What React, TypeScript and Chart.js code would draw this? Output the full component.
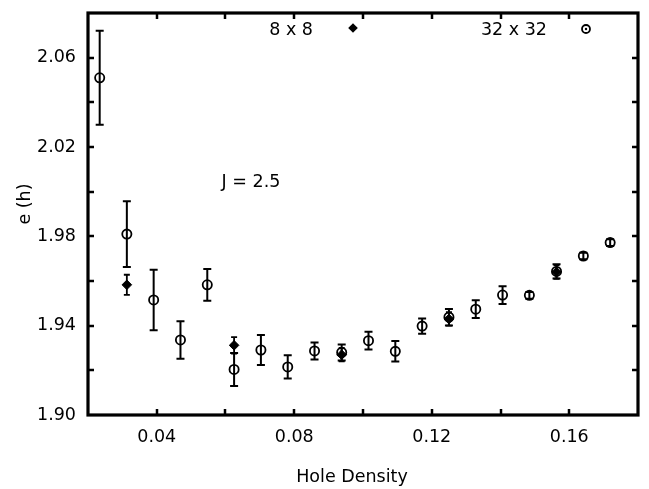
import React, { useEffect, useRef } from "react";
import { Chart, registerables } from "chart.js";

Chart.register(...registerables);

// ---- data ----
const holeDensity32 = [0.0234, 0.0313, 0.0391, 0.0469, 0.0547, 0.0625, 0.0703, 0.0781, 0.0859, 0.0938, 0.1016, 0.1094, 0.1172, 0.125, 0.1328, 0.1406, 0.1484, 0.1563, 0.1641, 0.1719];
const energy32 = [2.051, 1.981, 1.9515, 1.9336, 1.9583, 1.9204, 1.9291, 1.9215, 1.9287, 1.928, 1.9333, 1.9285, 1.9398, 1.9438, 1.9474, 1.9537, 1.9536, 1.9643, 1.9712, 1.9772];
const error32 = [0.021, 0.0147, 0.0135, 0.0084, 0.0071, 0.0074, 0.0067, 0.0052, 0.0038, 0.0036, 0.004, 0.0046, 0.0034, 0.0037, 0.004, 0.004, 0.0015, 0.0032, 0.0015, 0.0015];

const holeDensity8 = [0.0313, 0.0625, 0.0938, 0.125, 0.1563];
const energy8 = [1.9583, 1.9312, 1.927, 1.943, 1.964];
const error8 = [0.0045, 0.0037, 0.003, 0.003, 0.003];

const seriesLabels = ["8 x 8", "32 x 32"];
const xTickLabels = ["0.04", "0.08", "0.12", "0.16"];
const yTickLabels = ["1.90", "1.94", "1.98", "2.02", "2.06"];
const xTitle = "Hole Density";
const yTitle = "e (h)";
const annotation = "J = 2.5";

const FONT = '17.5px "DejaVu Sans"';

const decorPlugin = {
  id: "decor",
  beforeDatasetsDraw(chart: any) {
    const ctx = chart.ctx;
    const xs = chart.scales.x;
    const ys = chart.scales.y;
    ctx.save();
    ctx.strokeStyle = "#000";
    chart.data.datasets.forEach((ds: any) => {
      const errs: number[] = ds.errors || [];
      const cap = ds.capHalf || 4;
      ctx.lineWidth = ds.errWidth || 1.8;
      ds.data.forEach((p: any, i: number) => {
        const e = errs[i];
        if (!e) return;
        const px = xs.getPixelForValue(p.x);
        const y1 = ys.getPixelForValue(p.y + e);
        const y2 = ys.getPixelForValue(p.y - e);
        ctx.beginPath();
        ctx.moveTo(px, y1);
        ctx.lineTo(px, y2);
        ctx.moveTo(px - cap, y1);
        ctx.lineTo(px + cap, y1);
        ctx.moveTo(px - cap, y2);
        ctx.lineTo(px + cap, y2);
        ctx.stroke();
      });
    });
    ctx.restore();
  },
  afterDraw(chart: any) {
    const ctx = chart.ctx;
    const { left, right, top, bottom } = chart.chartArea;
    const xs = chart.scales.x;
    const ys = chart.scales.y;
    ctx.save();
    ctx.strokeStyle = "#000";
    // inward ticks
    ctx.lineWidth = 2.5;
    const tl = 6;
    xs.ticks.forEach((t: any) => {
      if (t.value <= xs.min + 1e-9 || t.value >= xs.max - 1e-9) return;
      const px = Math.round(xs.getPixelForValue(t.value));
      ctx.beginPath();
      ctx.moveTo(px, bottom);
      ctx.lineTo(px, bottom - tl);
      ctx.moveTo(px, top);
      ctx.lineTo(px, top + tl);
      ctx.stroke();
    });
    ys.ticks.forEach((t: any) => {
      if (t.value <= ys.min + 1e-9 || t.value >= ys.max - 1e-9) return;
      const py = Math.round(ys.getPixelForValue(t.value));
      ctx.beginPath();
      ctx.moveTo(left, py);
      ctx.lineTo(left + tl, py);
      ctx.moveTo(right, py);
      ctx.lineTo(right - tl, py);
      ctx.stroke();
    });
    // frame
    ctx.lineWidth = 3.2;
    ctx.strokeRect(left, top, right - left, bottom - top);

    // texts
    ctx.fillStyle = "#000";
    ctx.font = FONT;
    ctx.textAlign = "center";
    ctx.textBaseline = "alphabetic";
    ctx.fillText(xTitle, 352, 482);
    ctx.fillText(annotation, 251, 187);
    ctx.save();
    ctx.translate(25, 204);
    ctx.rotate(-Math.PI / 2);
    ctx.textBaseline = "middle";
    ctx.fillText(yTitle, 0, 0);
    ctx.restore();

    // legend
    ctx.textAlign = "right";
    ctx.textBaseline = "alphabetic";
    ctx.fillText(seriesLabels[0], 313, 35);
    ctx.fillText(seriesLabels[1], 547, 35);
    // diamond
    const dx = 353, dy = 28, r = 4.8;
    ctx.beginPath();
    ctx.moveTo(dx - r, dy);
    ctx.lineTo(dx, dy - r);
    ctx.lineTo(dx + r, dy);
    ctx.lineTo(dx, dy + r);
    ctx.closePath();
    ctx.fill();
    // circle with dot
    ctx.lineWidth = 1.8;
    ctx.beginPath();
    ctx.arc(586, 29, 4, 0, Math.PI * 2);
    ctx.stroke();
    ctx.beginPath();
    ctx.arc(586, 29, 1.2, 0, Math.PI * 2);
    ctx.fill();
    ctx.restore();
  },
};

export default function App() {
  const ref = useRef<HTMLCanvasElement | null>(null);
  useEffect(() => {
    if (!ref.current) return;
    const chart = new Chart(ref.current, {
      type: "scatter",
      data: {
        datasets: [
          {
            label: seriesLabels[1],
            data: holeDensity32.map((x, i) => ({ x, y: energy32[i] })),
            errors: error32,
            capHalf: 4,
            errWidth: 2,
            pointStyle: "circle",
            pointRadius: 4.6,
            pointBorderWidth: 1.8,
            borderColor: "#000",
            backgroundColor: "rgba(0,0,0,0)",
            showLine: false,
          } as any,
          {
            label: seriesLabels[0],
            data: holeDensity8.map((x, i) => ({ x, y: energy8[i] })),
            errors: error8,
            capHalf: 3,
            errWidth: 1.8,
            pointStyle: "rectRot",
            pointRadius: 4.8,
            pointBorderWidth: 1,
            borderColor: "#000",
            backgroundColor: "#000",
            showLine: false,
          } as any,
        ],
      },
      options: {
        animation: false,
        responsive: false,
        events: [],
        layout: { padding: { top: 13, right: 11, left: 0, bottom: 0 } },
        plugins: { legend: { display: false }, tooltip: { enabled: false } },
        scales: {
          x: {
            type: "linear",
            min: 0.02,
            max: 0.18,
            grid: { display: false, drawTicks: false },
            border: { display: false },
            ticks: {
              stepSize: 0.02,
              autoSkip: false,
              maxRotation: 0,
              padding: 12,
              color: "#000",
              font: { family: "DejaVu Sans", size: 17.5 },
              callback: (v: any) => {
                const s = Number(v).toFixed(2);
                return xTickLabels.includes(s) ? s : "";
              },
            },
            afterFit: (s: any) => {
              s.height = 74;
              s.paddingLeft = 0;
              s.paddingRight = 0;
              s.paddingTop = 0;
              s.paddingBottom = 0;
            },
          },
          y: {
            type: "linear",
            min: 1.9,
            max: 2.08,
            grid: { display: false, drawTicks: false },
            border: { display: false },
            ticks: {
              stepSize: 0.02,
              autoSkip: false,
              padding: 12,
              color: "#000",
              font: { family: "DejaVu Sans", size: 17.5 },
              callback: (v: any) => {
                const s = Number(v).toFixed(2);
                return yTickLabels.includes(s) ? s : "";
              },
            },
            afterFit: (s: any) => {
              s.width = 88;
              s.paddingLeft = 0;
              s.paddingRight = 0;
              s.paddingTop = 0;
              s.paddingBottom = 0;
            },
          },
        },
      } as any,
      plugins: [decorPlugin],
    });
    return () => chart.destroy();
  }, []);
  return (
    <div style={{ position: "absolute", left: 0, top: 0, width: 649, height: 489, background: "#fff" }}>
      <canvas ref={ref} width={649} height={489} style={{ display: "block" }} />
    </div>
  );
}
